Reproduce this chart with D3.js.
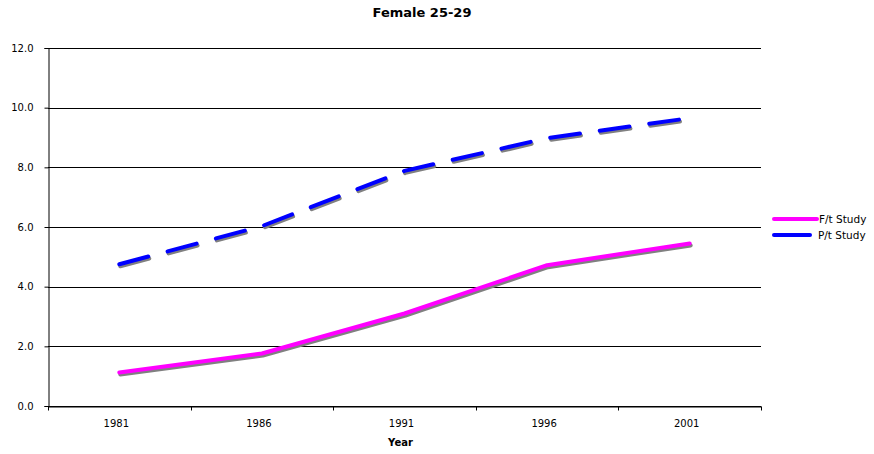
<!DOCTYPE html>
<html>
<head>
<meta charset="utf-8">
<script src="https://cdn.jsdelivr.net/npm/d3@7"></script>
<style>
  body { margin: 0; background: #fff; }
  text { font-family: "DejaVu Sans", Verdana, sans-serif; fill: #000; }
</style>
</head>
<body>
<div id="chart"></div>
<script>
var years = ["1981", "1986", "1991", "1996", "2001"];
var ftStudy = [1.12, 1.76, 3.1, 4.72, 5.45];
var ptStudy = [4.75, 6.03, 7.88, 8.98, 9.65];
var yTicks = [0, 2, 4, 6, 8, 10, 12];

var series = [
    { name: "F/t Study", values: ftStudy, color: "#ff00ff", dash: null },
    { name: "P/t Study", values: ptStudy, color: "#0000ff", dash: "30,20" }
];

var width = 874, height = 454;
var margin = { top: 48, right: 113, bottom: 48, left: 48 };
var innerW = width - margin.left - margin.right,
    innerH = height - margin.top - margin.bottom;

var svg = d3.select("#chart").append("svg")
    .attr("width", width)
    .attr("height", height);

svg.append("text")
    .attr("x", 422)
    .attr("y", 17)
    .attr("text-anchor", "middle")
    .style("font-size", "13px")
    .style("font-weight", "bold")
    .text("Female 25-29");

var g = svg.append("g")
    .attr("transform", "translate(" + margin.left + "," + margin.top + ")");

var x = d3.scaleBand()
    .domain(years)
    .range([0, innerW]);

var y = d3.scaleLinear()
    .domain([0, 12])
    .range([innerH, 0]);

// grid
g.selectAll(".grid")
    .data(yTicks)
    .enter().append("line")
    .attr("class", "grid")
    .attr("x1", 0)
    .attr("x2", innerW)
    .attr("y1", function (d) { return Math.round(y(d)) + 0.5; })
    .attr("y2", function (d) { return Math.round(y(d)) + 0.5; })
    .style("stroke", "#000")
    .style("stroke-width", 1);

// y axis
var yAxis = g.append("g")
    .attr("transform", "translate(0.5,0)")
    .call(d3.axisLeft(y).tickValues(yTicks).tickFormat(d3.format(".1f")).tickSize(4).tickPadding(11));

// x axis
var xAxis = g.append("g")
    .attr("transform", "translate(0," + (innerH + 0.5) + ")")
    .call(d3.axisBottom(x).tickSize(0).tickPadding(13));

xAxis.selectAll(".tick text").attr("dx", -3);

var boundaries = years.map(function (d) { return x(d); }).concat([innerW]);
xAxis.selectAll(".bound")
    .data(boundaries)
    .enter().append("line")
    .attr("class", "bound")
    .attr("x1", function (d) { return Math.round(d) + 0.5; })
    .attr("x2", function (d) { return Math.round(d) + 0.5; })
    .attr("y1", 0)
    .attr("y2", 4)
    .style("stroke", "#000");

[yAxis, xAxis].forEach(function (a) {
    a.selectAll("path.domain").style("stroke", "#000");
    a.selectAll("line").style("stroke", "#000");
    a.selectAll("text").style("font-size", "10px").style("font-family", "'DejaVu Sans', Verdana, sans-serif");
});

g.append("text")
    .attr("x", x("1991") + x.bandwidth() / 2 - 4)
    .attr("y", innerH + 40)
    .attr("text-anchor", "middle")
    .style("font-size", "10px")
    .style("font-weight", "bold")
    .text("Year");

var line = d3.line()
    .x(function (d, i) { return x(years[i]) + x.bandwidth() / 2; })
    .y(function (d) { return y(d); });

series.forEach(function (s) {
    // shadow
    g.append("path")
        .datum(s.values)
        .attr("d", line)
        .attr("transform", "translate(1,2)")
        .style("fill", "none")
        .style("stroke", "#808080")
        .style("stroke-width", 4)
        .style("stroke-linecap", "round")
        .style("stroke-linejoin", "round")
        .style("stroke-dasharray", s.dash);
    g.append("path")
        .datum(s.values)
        .attr("d", line)
        .style("fill", "none")
        .style("stroke", s.color)
        .style("stroke-width", 4)
        .style("stroke-linecap", "round")
        .style("stroke-linejoin", "round")
        .style("stroke-dasharray", s.dash);
});

// legend
var legend = svg.append("g")
    .attr("transform", "translate(774,219)");

var item = legend.selectAll(".item")
    .data(series)
    .enter().append("g")
    .attr("class", "item")
    .attr("transform", function (d, i) { return "translate(0," + (i * 16) + ")"; });

item.append("line")
    .attr("x1", 0)
    .attr("x2", function (d) { return d.dash ? 36 : 43; })
    .attr("y1", 0)
    .attr("y2", 0)
    .style("stroke", function (d) { return d.color; })
    .style("stroke-width", 4)
    .style("stroke-linecap", "round");

item.append("text")
    .attr("x", function (d) { return d.dash ? 44 : 45; })
    .attr("y", 0)
    .attr("dy", "0.35em")
    .style("font-size", "10.5px")
    .text(function (d) { return d.name; });
</script>
</body>
</html>
